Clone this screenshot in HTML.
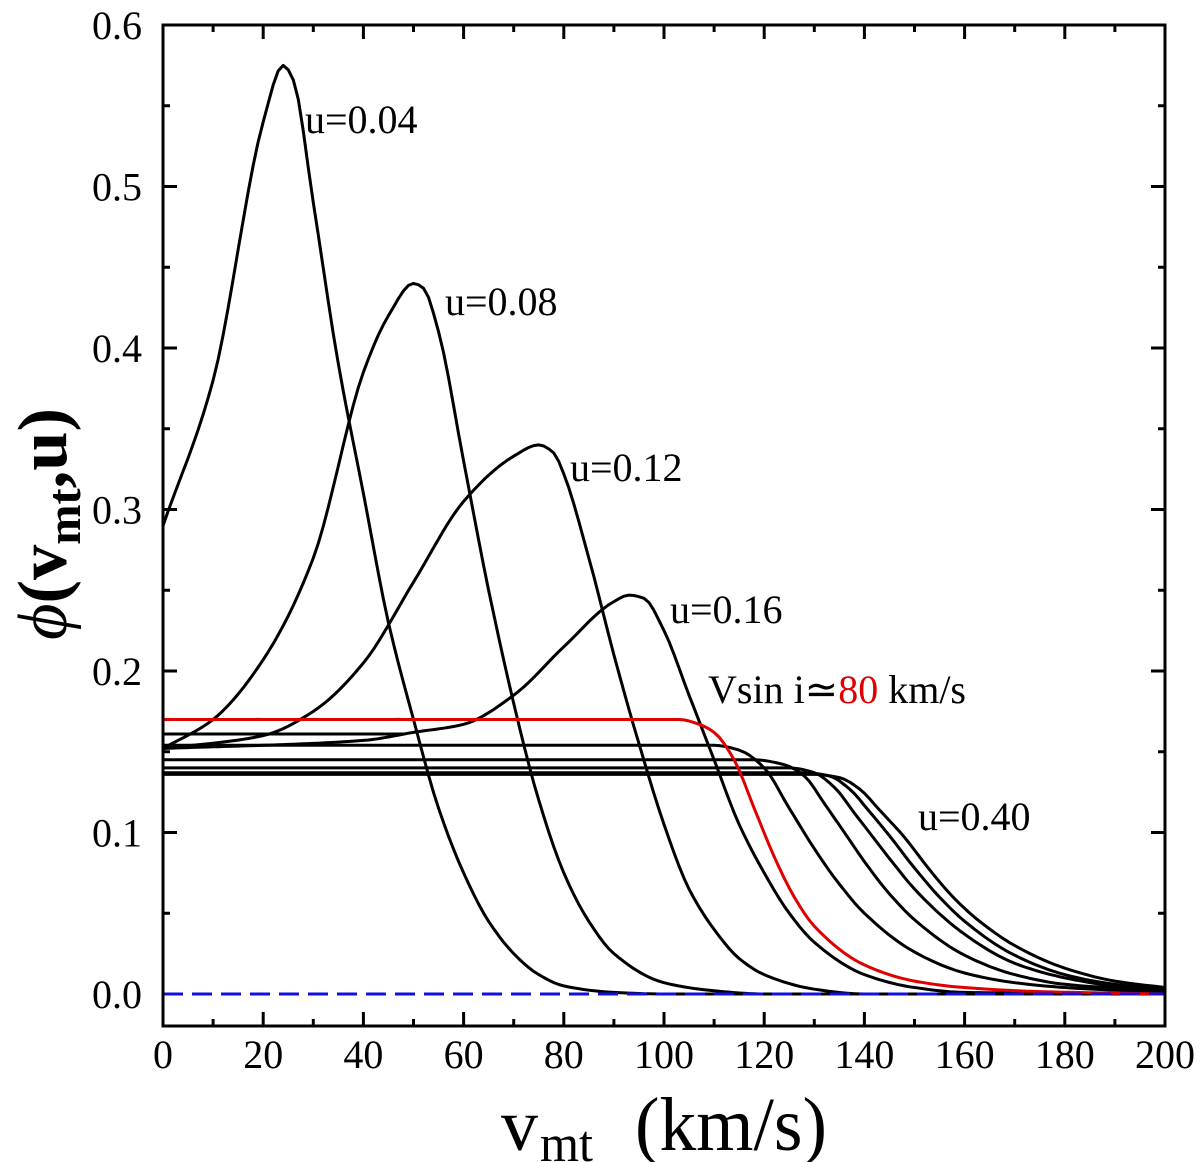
<!DOCTYPE html>
<html><head><meta charset="utf-8"><style>
html,body{margin:0;padding:0;background:#fff;}
svg{display:block;font-family:"Liberation Serif",serif;}
</style></head><body>
<svg id="chart" width="1200" height="1162" viewBox="0 0 1200 1162" xmlns="http://www.w3.org/2000/svg">
<g id="ticks"></g>
<g id="curves"></g>
<rect x="163" y="25" width="1002" height="1001" fill="none" stroke="#000" stroke-width="3"/>
<g font-size="40">
<text x="305" y="133">u=0.04</text>
<text x="445" y="315">u=0.08</text>
<text x="570" y="481">u=0.12</text>
<text x="670" y="623">u=0.16</text>
<text x="708" y="703">Vsin i≃<tspan fill="#e00000">80</tspan> km/s</text>
<text x="918" y="830">u=0.40</text>
</g>
<g>
<text x="501" y="1150" font-size="74">v</text>
<text x="540" y="1161" font-size="52" textLength="53" lengthAdjust="spacingAndGlyphs">mt</text>
<text x="635" y="1150" font-size="76" textLength="192" lengthAdjust="spacingAndGlyphs">(km/s)</text>
</g>
<text transform="translate(66,524) rotate(-90)" text-anchor="middle" font-size="70" font-weight="bold" textLength="232" lengthAdjust="spacingAndGlyphs"><tspan font-style="italic" font-weight="normal">ϕ</tspan>(v<tspan font-size="48" dy="14">mt</tspan><tspan dy="-14">,u)</tspan></text>
</svg>
<script>
const xTicks=[0,20,40,60,80,100,120,140,160,180,200];
const yTicks=[0.0,0.1,0.2,0.3,0.4,0.5,0.6];
const yTickLabels=["0.0","0.1","0.2","0.3","0.4","0.5","0.6"];
const v004=[0,10,20,24,26,30,35,40,45,50,55,60,65,70,75,80,90,100,200];
const p004=[0.29,0.38,0.54,0.575,0.566,0.49,0.39,0.31,0.23,0.17,0.115,0.075,0.045,0.025,0.012,0.005,0.001,0,0];
const v008=[0,10,20,30,40,45,50,52,55,60,65,70,75,80,85,90,100,110,120,200];
const p008=[0.152,0.17,0.207,0.27,0.385,0.42,0.44,0.437,0.41,0.33,0.25,0.18,0.12,0.075,0.045,0.025,0.007,0.002,0,0];
const v012=[0,20,30,40,50,60,70,75,78,80,85,90,95,100,105,110,115,120,130,140,200];
const p012=[0.152,0.16,0.175,0.205,0.255,0.305,0.333,0.34,0.335,0.322,0.27,0.21,0.155,0.105,0.065,0.04,0.022,0.012,0.003,0,0];
const v016=[0,40,50,60,70,80,90,93,96,100,105,110,115,120,125,130,140,150,160,200];
const p016=[0.152,0.157,0.162,0.167,0.185,0.215,0.243,0.247,0.245,0.225,0.185,0.145,0.105,0.075,0.05,0.032,0.012,0.004,0.001,0];
const vFlat=[0,48];
const pFlat=[0.161,0.161];
const vRed=[0,103,107,110,114,118,122,126,130,140,150,160,175,200];
const pRed=[0.17,0.17,0.167,0.162,0.145,0.115,0.085,0.06,0.042,0.018,0.008,0.004,0.0015,0];
const vA=[0,110,115,120,125,130,135,140,150,160,170,180,200];
const pA=[0.154,0.154,0.151,0.14,0.115,0.09,0.068,0.05,0.026,0.013,0.007,0.004,0.001];
const vB=[0,118,124,128,132,136,140,145,150,160,170,180,200];
const pB=[0.145,0.145,0.142,0.135,0.118,0.1,0.082,0.062,0.046,0.024,0.012,0.006,0.002];
const vC=[0,125,130,134,138,142,146,150,160,170,180,190,200];
const pC=[0.14,0.14,0.137,0.128,0.112,0.096,0.08,0.065,0.037,0.019,0.01,0.005,0.003];
const vD=[0,128,133,137,141,145,150,155,160,170,180,190,200];
const pD=[0.137,0.137,0.135,0.127,0.113,0.098,0.078,0.06,0.045,0.024,0.012,0.006,0.003];
const vE=[0,130,135,139,143,148,153,158,163,170,180,190,200];
const pE=[0.136,0.136,0.134,0.127,0.114,0.097,0.077,0.059,0.045,0.03,0.016,0.008,0.004];

const X=v=>163+v*5.01;
const Y=p=>994-p*1615;
const NS="http://www.w3.org/2000/svg";
const tg=document.getElementById('ticks');
function ln(x1,y1,x2,y2,name){const l=document.createElementNS(NS,'line');
l.setAttribute('x1',x1);l.setAttribute('y1',y1);l.setAttribute('x2',x2);l.setAttribute('y2',y2);
l.setAttribute('stroke','#000');l.setAttribute('stroke-width','3');


tg.appendChild(l);}
xTicks.forEach((v,i)=>{
 ln(X(v),1026,X(v),1012,'x-tick');ln(X(v),25,X(v),39,'x-tick-top');
 if(i<xTicks.length-1){const m=X(v+10);ln(m,1026,m,1019,'x-minor-tick');ln(m,25,m,32,'x-minor-tick-top');}
 const t=document.createElementNS(NS,'text');t.setAttribute('x',X(v));t.setAttribute('y',1068);
 t.setAttribute('text-anchor','middle');t.setAttribute('font-size','40');t.textContent=v;
 
 
 tg.appendChild(t);});
yTicks.forEach((p,i)=>{
 ln(163,Y(p),177,Y(p),'y-tick');ln(1165,Y(p),1151,Y(p),'y-tick-right');
 if(i<yTicks.length-1){const m=Y(p+0.05);ln(163,m,170,m,'y-minor-tick');ln(1165,m,1158,m,'y-minor-tick-right');}
 const t=document.createElementNS(NS,'text');t.setAttribute('x',142);t.setAttribute('y',Y(p)+14);
 t.setAttribute('text-anchor','end');t.setAttribute('font-size','40');t.textContent=yTickLabels[i];
 
 
 tg.appendChild(t);});
const cg=document.getElementById('curves');
function path(vs,ps){
 const n=vs.length;if(n<3)return 'M'+X(vs[0])+','+Y(ps[0])+' L'+X(vs[n-1])+','+Y(ps[n-1]);
 const h=[],d=[];for(let i=0;i<n-1;i++){h.push(vs[i+1]-vs[i]);d.push((ps[i+1]-ps[i])/h[i]);}
 const m=new Array(n);m[0]=d[0];m[n-1]=d[n-2];
 for(let i=1;i<n-1;i++){if(d[i-1]*d[i]<=0)m[i]=0;else{const w1=2*h[i]+h[i-1],w2=h[i]+2*h[i-1];m[i]=(w1+w2)/(w1/d[i-1]+w2/d[i]);}}
 let s='M'+X(vs[0]).toFixed(1)+','+Y(ps[0]).toFixed(1);
 for(let i=0;i<n-1;i++){const steps=Math.max(2,Math.ceil(h[i]));
  for(let k=1;k<=steps;k++){const t=k/steps,t2=t*t,t3=t2*t;
   const y=(2*t3-3*t2+1)*ps[i]+(t3-2*t2+t)*h[i]*m[i]+(-2*t3+3*t2)*ps[i+1]+(t3-t2)*h[i]*m[i+1];
   s+=' L'+X(vs[i]+t*h[i]).toFixed(1)+','+Y(y).toFixed(1);}}
 return s;}
function curve(vs,ps,col,name){const e=document.createElementNS(NS,'path');
 e.setAttribute('d',path(vs,ps));e.setAttribute('fill','none');e.setAttribute('stroke',col);e.setAttribute('stroke-width','3');
 e.setAttribute('stroke-linejoin','round');
 
 
 cg.appendChild(e);}
curve(v004,p004,'#000','curve-u004');
curve(v008,p008,'#000','curve-u008');
curve(v012,p012,'#000','curve-u012');
curve(v016,p016,'#000','curve-u016');
curve(vFlat,pFlat,'#000','curve-flat-0161');
curve(vA,pA,'#000','curve-plateau-a');
curve(vB,pB,'#000','curve-plateau-b');
curve(vC,pC,'#000','curve-plateau-c');
curve(vD,pD,'#000','curve-plateau-d');
curve(vE,pE,'#000','curve-u040');
curve(vRed,pRed,'#e00000','curve-vsini-80');
const z=document.createElementNS(NS,'line');
z.setAttribute('x1',X(0));z.setAttribute('x2',X(200));z.setAttribute('y1',Y(0));z.setAttribute('y2',Y(0));
z.setAttribute('stroke','#1010e0');z.setAttribute('stroke-width','3');z.setAttribute('stroke-dasharray','20,9');


cg.appendChild(z);
</script>
</body></html>
